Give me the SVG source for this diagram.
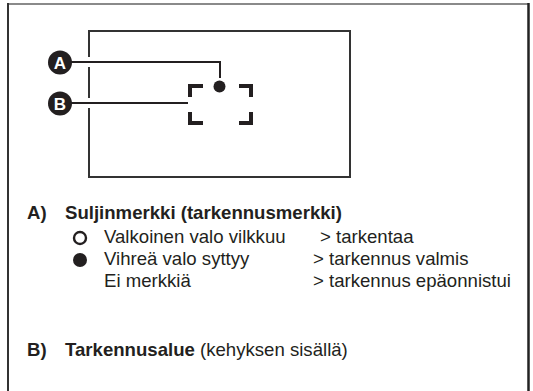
<svg xmlns="http://www.w3.org/2000/svg" width="533" height="391" viewBox="0 0 533 391">
<style>
  .t { font-family: "Liberation Sans", Arial, sans-serif; font-size: 18.6px; fill: #231f20; }
  .b { font-weight: bold; }
  .ln { stroke: #231f20; stroke-width: 2; fill: none; }
  .br { stroke: #231f20; stroke-width: 4; fill: none; stroke-linecap: butt; }
  .lbl { font-family: "Liberation Sans", Arial, sans-serif; font-size: 17px; font-weight: bold; fill: #ffffff; }
</style>
<rect width="533" height="391" fill="#ffffff"/>
<g id="frame">
  <line x1="8" y1="4" x2="529" y2="4" stroke="#8a8a8a" stroke-width="2"/>
  <line x1="8" y1="3" x2="8" y2="391" stroke="#333333" stroke-width="2"/>
  <line x1="528.5" y1="3" x2="528.5" y2="391" stroke="#222222" stroke-width="2.5"/>
</g>
<g id="screen">
  <rect x="89" y="31" width="261" height="146" fill="none" stroke="#333333" stroke-width="2"/>
  <rect x="85" y="57" width="8" height="10" fill="#ffffff"/>
  <rect x="85" y="98" width="8" height="10" fill="#ffffff"/>
</g>
<g id="focus-frame">
  <polyline class="br" points="190,97 190,86 203,86"/>
  <polyline class="br" points="239,86 251,86 251,97"/>
  <polyline class="br" points="190,112 190,123 203,123"/>
  <polyline class="br" points="239,123 251,123 251,112"/>
</g>
<g id="focus-dot">
  <circle cx="219.5" cy="86.5" r="6" fill="#231f20"/>
</g>
<g id="connectors">
  <polyline class="ln" points="70,62 220,62 220,78"/>
  <line class="ln" x1="70" y1="103" x2="188" y2="103"/>
</g>
<g id="label-A">
  <circle cx="60" cy="62.5" r="12" fill="#231f20"/>
  <text class="lbl" x="60" y="68.5" text-anchor="middle">A</text>
</g>
<g id="label-B">
  <circle cx="60" cy="103.5" r="12" fill="#231f20"/>
  <text class="lbl" x="60" y="109.5" text-anchor="middle">B</text>
</g>
<g id="legend-A">
  <text class="t b" x="27" y="219">A)</text>
  <text class="t b" x="65" y="219">Suljinmerkki (tarkennusmerkki)</text>
  <circle cx="80" cy="238" r="6" fill="none" stroke="#231f20" stroke-width="2.4"/>
  <text class="t" x="104" y="243">Valkoinen valo vilkkuu</text>
  <text class="t" x="320" y="243">&gt; tarkentaa</text>
  <circle cx="80" cy="260" r="7" fill="#231f20"/>
  <text class="t" x="104" y="265">Vihreä valo syttyy</text>
  <text class="t" x="313" y="265">&gt; tarkennus valmis</text>
  <text class="t" x="104" y="287">Ei merkkiä</text>
  <text class="t" x="313" y="287">&gt; tarkennus epäonnistui</text>
</g>
<g id="legend-B">
  <text class="t b" x="27" y="356">B)</text>
  <text class="t" x="65" y="356"><tspan class="b">Tarkennusalue</tspan> (kehyksen sisällä)</text>
</g>
</svg>
